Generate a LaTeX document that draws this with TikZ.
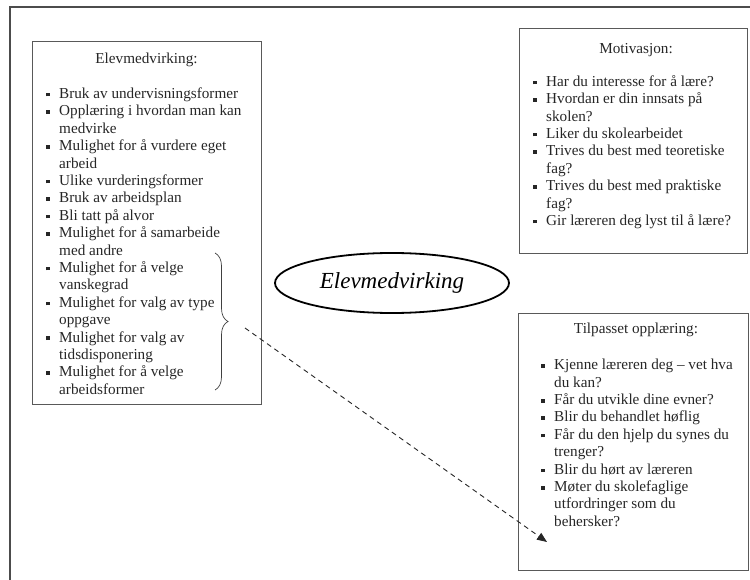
\documentclass[tikz,border=0pt]{standalone}
\usepackage{fontspec}
\setmainfont{Liberation Serif}
\usetikzlibrary{shapes.geometric,decorations.pathreplacing,arrows.meta}
\newcommand{\bul}{\rule[0.28ex]{3.6pt}{3.6pt}}
\newcommand{\itm}{\makebox[13pt][l]{\bul}}
\newcommand{\cnt}{\hspace*{13pt}}

\begin{document}
\begin{tikzpicture}[x=1pt,y=-1pt,
    boks/.style={draw=black!65, line width=0.8pt, inner sep=0pt},
    liste/.style={anchor=north west, align=left, inner sep=0pt, font=\fontsize{15.2}{17.4}\selectfont, text=black!85},
    tittel/.style={anchor=base, inner sep=0pt, font=\fontsize{15.2}{17.4}\selectfont, text=black!85}]
    \useasboundingbox (0,0) rectangle (750,580);
    \draw[black!70, line width=1.6pt] (10,580)--(10,7)--(750,7);
    % tre bokser
    \node[boks, minimum width=229pt, minimum height=363pt] (elevBoks) at (146.5,222.5) {};
    \node[boks, minimum width=228pt, minimum height=225pt] (motivBoks) at (633,140.5) {};
    \node[boks, minimum width=230pt, minimum height=257pt] (tilpBoks) at (633,441.5) {};
    \node[tittel] (elevTittel) at (146.5,64) {Elevmedvirking:};
    \node[tittel] (motivTittel) at (636,54) {Motivasjon:};
    \node[tittel] (tilpTittel) at (636,334) {Tilpasset opplæring:};
    \node[liste] (elevListe) at (46,87.5) {\itm Bruk av undervisningsformer\\
        \itm Opplæring i hvordan man kan\\ \cnt medvirke\\
        \itm Mulighet for å vurdere eget\\ \cnt arbeid\\
        \itm Ulike vurderingsformer\\
        \itm Bruk av arbeidsplan\\
        \itm Bli tatt på alvor\\
        \itm Mulighet for å samarbeide\\ \cnt med andre\\
        \itm Mulighet for å velge\\ \cnt vanskegrad\\
        \itm Mulighet for valg av type\\ \cnt oppgave\\
        \itm Mulighet for valg av\\ \cnt tidsdisponering\\
        \itm Mulighet for å velge\\ \cnt arbeidsformer};
    \node[liste] (motivListe) at (533,75) {\itm Har du interesse for å lære?\\
        \itm Hvordan er din innsats på\\ \cnt skolen?\\
        \itm Liker du skolearbeidet\\
        \itm Trives du best med teoretiske\\ \cnt fag?\\
        \itm Trives du best med praktiske\\ \cnt fag?\\
        \itm Gir læreren deg lyst til å lære?};
    \node[liste] (tilpListe) at (541,359) {\itm Kjenne læreren deg – vet hva\\ \cnt du kan?\\
        \itm Får du utvikle dine evner?\\
        \itm Blir du behandlet høflig\\
        \itm Får du den hjelp du synes du\\ \cnt trenger?\\
        \itm Blir du hørt av læreren\\
        \itm Møter du skolefaglige\\ \cnt utfordringer som du\\ \cnt behersker?};
    \node[draw, ellipse, line width=1.8pt, minimum width=234pt, minimum height=60pt, font=\fontsize{23}{26}\selectfont\itshape] (sentrum) at (392,283) {Elevmedvirking};
    \draw[decorate, decoration={brace, amplitude=13pt}, black!75, line width=0.7pt] (215,253)--(215,390);
    \coordinate (pilStart) at (245,328);
    \coordinate (pilSlutt) at (547,542);
    \draw[black!85, line width=0.9pt, dash pattern=on 5pt off 4pt, -{Triangle[length=10pt,width=8pt]}] (pilStart)--(pilSlutt);
\end{tikzpicture}
\end{document}
